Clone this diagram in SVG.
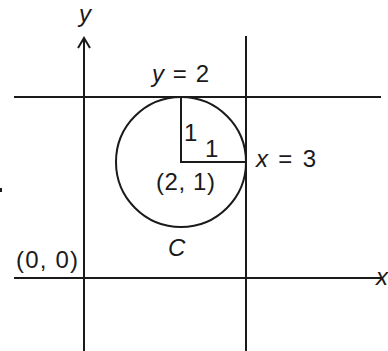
<svg xmlns="http://www.w3.org/2000/svg" width="388" height="351" viewBox="0 0 388 351">
<style>
.ln{stroke:#1a1a1a;stroke-width:2;fill:none}
.t{font-family:"Liberation Sans",Arial,sans-serif;font-size:24px;fill:#1a1a1a}
.i{font-style:italic}
</style>
<rect width="388" height="351" fill="#ffffff"/>
<g id="connectors">
<line class="ln" x1="84" y1="38" x2="84" y2="351"/>
<polyline class="ln" points="78,48 84,38 90,48"/>
<line class="ln" x1="14" y1="278" x2="381" y2="278"/>
<line class="ln" x1="14" y1="97" x2="381" y2="97"/>
<line class="ln" x1="246" y1="36" x2="246" y2="351"/>
<polyline class="ln" points="181,97 181,162 246,162"/>
</g>
<g id="circle">
<circle class="ln" cx="181" cy="162" r="65"/>
</g>
<rect x="0" y="188" width="2" height="4" fill="#1a1a1a"/>
<g id="labels">
<text class="t i" x="79" y="22">y</text>
<text class="t" x="152" y="82" textLength="57" lengthAdjust="spacing"><tspan class="i">y</tspan> = 2</text>
<text class="t" x="184" y="141">1</text>
<text class="t" x="205" y="157">1</text>
<text class="t" x="256" y="167" textLength="60" lengthAdjust="spacing"><tspan class="i">x</tspan> = 3</text>
<text class="t" x="156" y="190" textLength="59" lengthAdjust="spacing">(2, 1)</text>
<text class="t i" x="168" y="256">C</text>
<text class="t" x="16" y="268" textLength="62" lengthAdjust="spacing">(0, 0)</text>
<text class="t i" x="376" y="285">x</text>
</g>
</svg>
